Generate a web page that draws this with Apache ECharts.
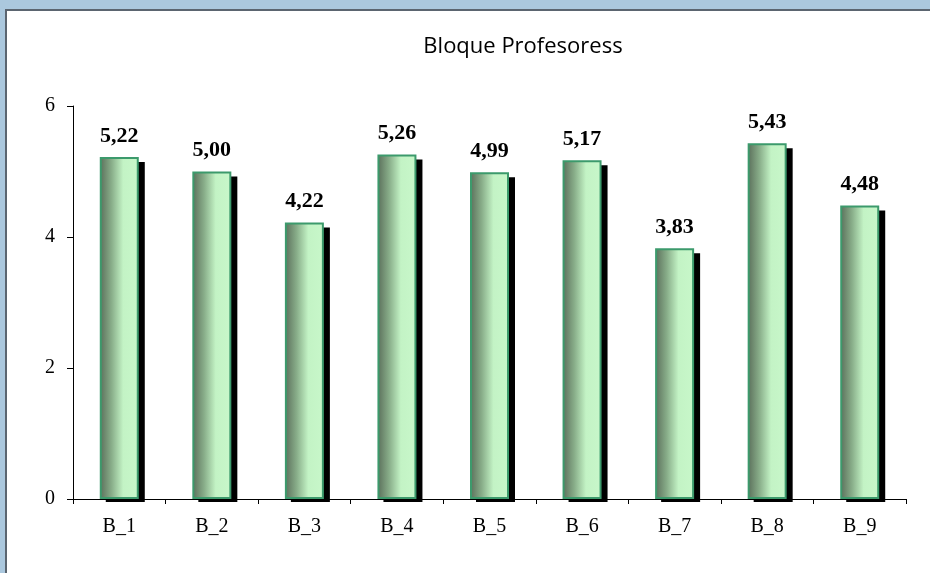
<!DOCTYPE html>
<html>
<head>
<meta charset="utf-8">
<script src="https://cdn.jsdelivr.net/npm/echarts@6/dist/echarts.min.js"></script>
<style>
  html, body { margin: 0; padding: 0; }
  #chart { width: 930px; height: 573px; }
</style>
</head>
<body>
<div id="chart"></div>
<script>
// datos del gráfico
const categories = ['B_1', 'B_2', 'B_3', 'B_4', 'B_5', 'B_6', 'B_7', 'B_8', 'B_9'];
const values = [5.22, 5.00, 4.22, 5.26, 4.99, 5.17, 3.83, 5.43, 4.48];
const yTicks = [0, 2, 4, 6];

const chart = echarts.init(document.getElementById('chart'));

const BAR_W = 39;

const barGradient = new echarts.graphic.LinearGradient(0, 0, 1, 0, [
  { offset: 0, color: '#5a6e5a' },
  { offset: 0.3, color: '#88ad89' },
  { offset: 0.6, color: '#c3f3c5' },
  { offset: 1, color: '#c8f7ca' }
]);

// sombra negra desplazada detrás de cada barra
const renderShadow = (params, api) => {
  const top = api.coord([api.value(0), api.value(1)]);
  const base = api.coord([api.value(0), 0]);
  return {
    type: 'rect',
    shape: {
      x: top[0] - BAR_W / 2 + 6,
      y: top[1] + 5,
      width: BAR_W,
      height: base[1] + 3 - (top[1] + 5)
    },
    style: { fill: '#000' }
  };
};

const option = {
  backgroundColor: '#abc8de',
  animation: false,
  graphic: [
    {
      type: 'rect',
      z: -10,
      shape: { x: 6, y: 10, width: 940, height: 580 },
      style: { fill: '#ffffff', stroke: '#5b6570', lineWidth: 2 }
    }
  ],
  title: {
    text: 'Bloque Profesoress',
    left: 518,
    top: 31,
    textAlign: 'center',
    textStyle: {
      fontFamily: 'Open Sans',
      fontSize: 22,
      fontWeight: 'normal',
      color: '#000'
    }
  },
  grid: {
    left: 73,
    right: 24,
    top: 106,
    bottom: 74
  },
  xAxis: {
    type: 'category',
    data: categories,
    axisLine: { lineStyle: { color: '#000', width: 1 } },
    axisTick: { show: true, alignWithLabel: false, length: 5, lineStyle: { color: '#000' } },
    axisLabel: {
      margin: 18,
      fontFamily: 'Liberation Serif',
      fontSize: 20,
      color: '#000'
    }
  },
  yAxis: {
    type: 'value',
    min: yTicks[0],
    max: yTicks[yTicks.length - 1],
    interval: 2,
    axisLine: { show: true, lineStyle: { color: '#000', width: 1 } },
    axisTick: { show: true, length: 6, lineStyle: { color: '#000' } },
    splitLine: { show: false },
    axisLabel: {
      margin: 18,
      fontFamily: 'Liberation Serif',
      fontSize: 20,
      color: '#000'
    }
  },
  series: [
    {
      type: 'custom',
      z: 1,
      renderItem: renderShadow,
      data: values.map((v, i) => [i, v]),
      encode: { x: 0, y: 1 },
      silent: true
    },
    {
      type: 'bar',
      z: 2,
      data: values,
      barWidth: BAR_W,
      itemStyle: {
        color: barGradient,
        borderColor: '#3c9a6c',
        borderWidth: 2
      },
      label: {
        show: true,
        position: 'top',
        distance: 10,
        fontFamily: 'Liberation Serif',
        fontSize: 22,
        fontWeight: 'bold',
        color: '#000',
        formatter: p => p.value.toFixed(2).replace('.', ',')
      }
    }
  ]
};

chart.setOption(option);
</script>
</body>
</html>
